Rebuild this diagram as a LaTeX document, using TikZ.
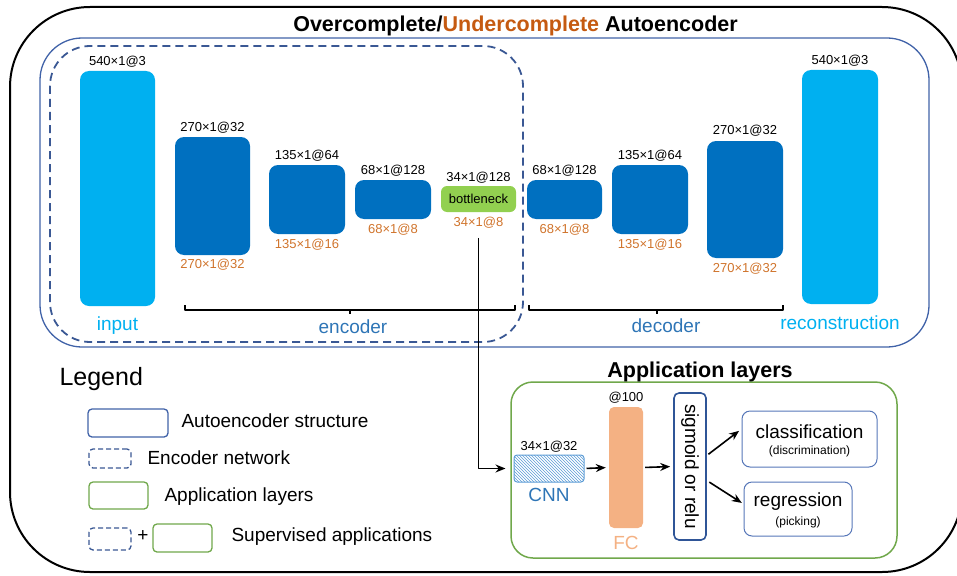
\documentclass[tikz,border=0pt]{standalone}
\usepackage{fontspec}
\setmainfont{Liberation Sans}
\usetikzlibrary{positioning,patterns,arrows.meta}
\definecolor{dkblue}{HTML}{0070C0}
\definecolor{ltblue}{HTML}{00B0F0}
\definecolor{bngreen}{HTML}{92D050}
\definecolor{ttlorange}{HTML}{C55A11}
\definecolor{dimorange}{HTML}{D0742C}
\definecolor{midblue}{HTML}{2E75B6}
\definecolor{aeblue}{HTML}{4062A8}
\definecolor{dashblue}{HTML}{3A5894}
\definecolor{appgreen}{HTML}{70A84B}
\definecolor{fcorange}{HTML}{F4B183}
\definecolor{cnnblue}{HTML}{5B9BD5}
\definecolor{sigblue}{HTML}{2F5597}
\definecolor{boxblue}{HTML}{5676B8}
\newcommand\fsz[1]{\fontsize{#1}{#1}\selectfont}

\begin{document}
\begin{tikzpicture}[x=1pt,y=-1pt,line join=round,>={Stealth[length=10pt,width=8pt]},
	layer/.style={rounded corners=9pt,minimum width=75pt,inner sep=0pt,fill=dkblue},
	dim/.style={font=\fsz{13},inner sep=1pt},
	code/.style={dim,text=dimorange},
	tag/.style={font=\fsz{19}},
	outbox/.style={draw=boxblue,line width=1pt,rounded corners=8pt,inner sep=0pt},
	legbox/.style={rounded corners=4pt,inner sep=0pt,line width=1.3pt},
	link/.style={->,line width=1.6pt}]
	\useasboundingbox (0,0) rectangle (957,575);
	% frames
	\draw[line width=2pt,rounded corners=80pt] (10,7) rectangle (962,572);
	\node[font=\fsz{21.5}\bfseries,anchor=base] (title) at (515.5,32) {Overcomplete/\textcolor{ttlorange}{Undercomplete} Autoencoder};
	\draw[aeblue,line width=1.3pt,rounded corners=42pt] (40,38) rectangle (929,347);
	\draw[dashblue,line width=1.8pt,dash pattern=on 8pt off 5pt,rounded corners=40pt] (50,46) rectangle (523,342);
	
	% encoder
	\node[layer,fill=ltblue,minimum height=235pt] (input) at (117.5,188.5) {};
	\node[dim,above=2pt of input] (inputtop) {540×1@3};
	\node[tag,text=ltblue] (inputtag) at (117.5,326) {input};
	
	\node[layer,minimum height=118pt] (enc1) at (212.5,196) {};
	\node[dim,above=2pt of enc1] (enc1top) {270×1@32};
	\node[code,below=2.5pt of enc1] (enc1low) {270×1@32};
	
	\node[layer,minimum width=76pt,minimum height=69pt] (enc2) at (307,199.5) {};
	\node[dim,above=2pt of enc2] (enc2top) {135×1@64};
	\node[code,below=4pt of enc2] (enc2low) {135×1@16};
	
	\node[layer,minimum width=76pt,minimum height=39pt] (enc3) at (393,199.5) {};
	\node[dim,above=2pt of enc3] (enc3top) {68×1@128};
	\node[code,below=4pt of enc3] (enc3low) {68×1@8};
	
	\node[layer,fill=bngreen,rounded corners=6pt,minimum height=26pt,font=\fsz{13}] (neck) at (478.5,199) {bottleneck};
	\node[dim,above=1pt of neck] (necktop) {34×1@128};
	\node[code,below=4pt of neck] (necklow) {34×1@8};
	
	% decoder
	\node[layer,minimum height=39pt] (dec1) at (564.5,199.5) {};
	\node[dim,above=2pt of dec1] (dec1top) {68×1@128};
	\node[code,below=4pt of dec1] (dec1low) {68×1@8};
	
	\node[layer,minimum width=76pt,minimum height=69pt] (dec2) at (650,199.5) {};
	\node[dim,above=2pt of dec2] (dec2top) {135×1@64};
	\node[code,below=4pt of dec2] (dec2low) {135×1@16};
	
	\node[layer,minimum width=76pt,minimum height=117pt] (dec3) at (745,199.5) {};
	\node[dim,above=3pt of dec3] (dec3top) {270×1@32};
	\node[code,below=4pt of dec3] (dec3low) {270×1@32};
	
	\node[layer,fill=ltblue,minimum width=76pt,minimum height=234pt] (recon) at (840,187) {};
	\node[dim,above=2pt of recon] (recontop) {540×1@3};
	\node[tag,text=ltblue] (recontag) at (840,323) {reconstruction};
	
	% braces
	\draw[line width=1.2pt] (185,305) -- (185,310) -- (515,310) -- (515,305) (350,310) -- (350,314);
	\node[tag,text=midblue] (enctag) at (353,327) {encoder};
	\draw[line width=1.2pt] (529,305) -- (529,310) -- (783,310) -- (783,305) (657,310) -- (657,314);
	\node[tag,text=midblue] (dectag) at (666,326) {decoder};
	
	% application layers
	\draw[appgreen,line width=1.5pt,rounded corners=22pt] (511,382) rectangle (897,558);
	\node[font=\fsz{21.5}\bfseries,anchor=base] (apptitle) at (700,377) {Application layers};
	
	\node[draw=cnnblue,line width=1pt,pattern=north west lines,pattern color=cnnblue,rounded corners=3pt,minimum width=70pt,minimum height=27pt,inner sep=0pt] (cnn) at (549,468.5) {};
	\node[dim,above=1pt of cnn] (cnntop) {34×1@32};
	\node[tag,text=midblue] (cnntag) at (549,495) {CNN};
	
	\node[fill=fcorange,rounded corners=5pt,minimum width=34pt,minimum height=121pt,inner sep=0pt] (fc) at (626,467.5) {};
	\node[dim,above=2pt of fc] (fctop) {@100};
	\node[tag,text=fcorange] (fctag) at (626,543) {FC};
	
	\node[draw=sigblue,line width=1.6pt,rounded corners=5pt,minimum width=32pt,minimum height=147pt,inner sep=0pt] (sig) at (690,466.5) {};
	\node[tag,rotate=-90] (sigtxt) at (sig.center) {sigmoid or relu};
	
	\node[outbox,minimum width=135pt,minimum height=56pt] (cls) at (809.5,439) {};
	\node[tag] (clstxt) at (809.5,432) {classification};
	\node[font=\fsz{12}] (clssub) at (809.5,451) {(discrimination)};
	
	\node[outbox,minimum width=108pt,minimum height=54pt] (reg) at (798,509) {};
	\node[tag] (regtxt) at (798,502) {regression};
	\node[font=\fsz{12}] (regsub) at (798,522) {(picking)};
	
	% connectors
	\draw[link,shorten <=8pt,shorten >=8pt] (necklow.south) |- (cnn.west);
	\draw[link,shorten <=2pt,shorten >=3pt] (cnn.east) -- (fc.west);
	\draw[link,shorten <=2pt,shorten >=3pt] (fc.east) -- (sig.west);
	\draw[link,shorten <=2pt,shorten >=3pt] ([yshift=11pt]sig.east) -- ([yshift=10pt]cls.west);
	\draw[link,shorten <=3pt,shorten >=2pt] ([yshift=-14pt]sig.east) -- ([yshift=5pt]reg.west);
	
	% legend
	\node[font=\fsz{25},anchor=west] (legend) at (56,379) {Legend};
	\node[legbox,draw=aeblue,minimum width=80pt,minimum height=28pt] (legae) at (128,423) {};
	\node[tag,anchor=west] (legaetxt) at (178,421) {Autoencoder structure};
	\node[legbox,draw=dashblue,dash pattern=on 5pt off 3pt,minimum width=42pt,minimum height=19pt] (legenc) at (110,458.5) {};
	\node[tag,anchor=west] (legenctxt) at (144,458) {Encoder network};
	\node[legbox,draw=appgreen,minimum width=59pt,minimum height=27pt] (legapp) at (118.5,495.5) {};
	\node[tag,anchor=west] (legapptxt) at (161,497) {Application layers};
	\node[legbox,draw=dashblue,dash pattern=on 5pt off 3pt,minimum width=42pt,minimum height=22pt] (legsup) at (110,539) {};
	\node[tag] (legplus) at (143,536) {+};
	\node[legbox,draw=appgreen,minimum width=59pt,minimum height=28pt] (legsupapp) at (182.5,538) {};
	\node[tag,anchor=west] (legsuptxt) at (228,537) {Supervised applications};
\end{tikzpicture}
\end{document}
